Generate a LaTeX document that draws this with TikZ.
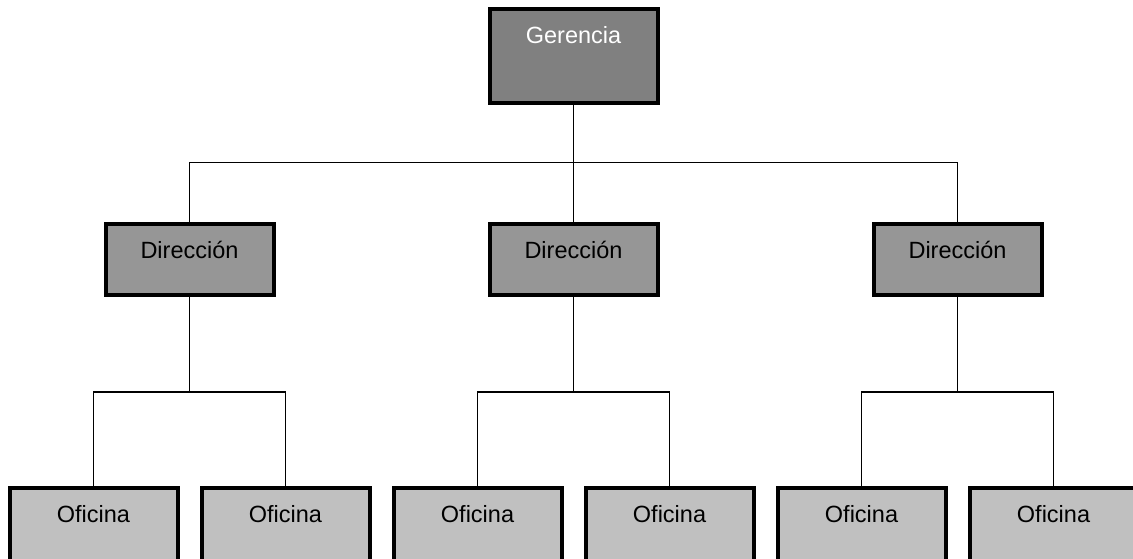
\documentclass[tikz,border=0pt]{standalone}
\usepackage{fontspec}
\setmainfont{Liberation Sans}
\begin{document}
\begin{tikzpicture}[x=1pt,y=-1pt,
  unit/.style={draw=black, line width=4pt, rectangle, minimum width=168pt,
    inner xsep=0pt, inner ysep=0pt, outer sep=0pt, text height=34pt,
    font=\fontsize{23.5}{28}\selectfont},
  topbox/.style={unit, fill={rgb,255:red,128;green,128;blue,128}, text=white,
    text depth=60pt},
  dirbox/.style={unit, fill={rgb,255:red,150;green,150;blue,150}, text=black,
    text depth=37pt},
  ofibox/.style={unit, fill={rgb,255:red,192;green,192;blue,192}, text=black,
    text depth=56pt},
  link/.style={draw=black, line width=1.6pt}]
\useasboundingbox (0,0) rectangle (1133,558);
\clip (0,0) rectangle (1133,558);

% top level
\node[topbox] (g) at (573.5,56) {Gerencia};

% directorates
\node[dirbox] (d1) at (189.5,259.5) {Dirección};
\node[dirbox] (d2) at (573.5,259.5) {Dirección};
\node[dirbox] (d3) at (957.5,259.5) {Dirección};

% offices
\node[ofibox] (o1) at (93.5,533)  {Oficina};
\node[ofibox] (o2) at (285.5,533) {Oficina};
\node[ofibox] (o3) at (477.5,533) {Oficina};
\node[ofibox] (o4) at (669.5,533) {Oficina};
\node[ofibox] (o5) at (861.5,533) {Oficina};
\node[ofibox] (o6) at (1053.5,533) {Oficina};

% branching points
\coordinate (b0) at (573.5,162.5);
\coordinate (b1) at (189.5,392);
\coordinate (b2) at (573.5,392);
\coordinate (b3) at (957.5,392);

% management to directorates
\path[link] (g.south) -- (b0);
\path[link] (d1.north) |- (b0);
\path[link] (d2.north) -- (b0);
\path[link] (d3.north) |- (b0);

% directorates to offices
\path[link] (d1.south) -- (b1);
\path[link] (o1.north) |- (b1);
\path[link] (o2.north) |- (b1);

\path[link] (d2.south) -- (b2);
\path[link] (o3.north) |- (b2);
\path[link] (o4.north) |- (b2);

\path[link] (d3.south) -- (b3);
\path[link] (o5.north) |- (b3);
\path[link] (o6.north) |- (b3);
\end{tikzpicture}
\end{document}
